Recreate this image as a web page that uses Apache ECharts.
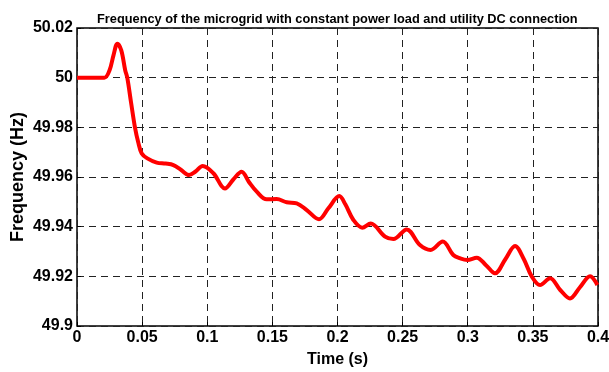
<!DOCTYPE html>
<html>
<head>
<meta charset="utf-8">
<script src="https://cdn.jsdelivr.net/npm/echarts@6/dist/echarts.min.js"></script>
<style>
html,body{margin:0;padding:0;background:#fff;}
#main{width:609px;height:372px;}
</style>
</head>
<body>
<div id="main"></div>
<script>
// time (s) and frequency (Hz)
var timeS=[0,0.021,0.025,0.028,0.031,0.034,0.037,0.0386,0.0415,0.0445,0.047,0.0497,0.054,0.0612,0.068,0.074,0.08,0.086,0.091,0.0965,
	0.1047,0.1136,0.12,0.1264,0.132,0.138,0.1456,0.1533,0.161,0.1687,0.1764,0.1858,0.193,0.2014,0.206,0.2122,0.219,0.2255,0.2365,0.2429,
	0.2531,0.2633,0.2715,0.2808,0.2889,0.294,0.2997,0.3069,0.314,0.3209,0.329,0.3363,0.343,0.3491,0.3555,0.3632,0.371,0.3785,0.386,0.3939,0.3995];
var freqHz=[50,50,50.003,50.009,50.0137,50.011,50.003,50,49.99,49.98,49.974,49.9695,49.9675,49.9658,49.9654,49.9648,49.9628,49.9608,49.9622,49.9644,
	49.9615,49.9554,49.959,49.9621,49.958,49.9541,49.951,49.9511,49.9498,49.9494,49.9467,49.943,49.9474,49.9523,49.949,49.9427,49.9396,49.9413,49.936,49.935,
	49.9389,49.9326,49.9306,49.934,49.9286,49.9273,49.9266,49.9275,49.9245,49.9212,49.927,49.9322,49.927,49.92,49.9165,49.9192,49.9145,49.9111,49.9155,49.92,49.9165];
var titleText='Frequency of the microgrid with constant power load and utility DC connection';

var points=[];
for(var i=0;i<timeS.length;i++){
	points.push([timeS[i],freqHz[i]]);
}
var font='"Liberation Sans", Arial, sans-serif';
var chart=echarts.init(document.getElementById('main'));
chart.setOption({
	animation:false,
	title:{
		text:titleText,
		left:92,top:8,
		textStyle:{fontFamily:font,fontSize:12.8,fontWeight:'bold',color:'#000'}
	},
	grid:{left:77,top:28,right:11,bottom:46,outerBoundsMode:'none',containLabel:false,
		show:true,borderColor:'#000',borderWidth:1.5,backgroundColor:'#fff'},
	xAxis:{
		type:'value',min:0,max:0.4,interval:0.05,
		name:'Time (s)',nameLocation:'middle',nameGap:26,nameMoveOverlap:false,
		nameTextStyle:{fontFamily:font,fontSize:16,fontWeight:'bold',color:'#000'},
		axisLine:{show:false},
		axisTick:{inside:true,length:4,lineStyle:{color:'#000'}},
		axisLabel:{fontFamily:font,fontSize:16,fontWeight:'bold',color:'#000',margin:4,
			formatter:function(v){return String(parseFloat(v.toFixed(3)));}},
		splitLine:{show:true,lineStyle:{color:'#222',width:1,type:[7,5]}}
	},
	yAxis:{
		type:'value',min:49.9,max:50.02,interval:0.02,
		name:'Frequency (Hz)',nameLocation:'middle',nameGap:50,nameMoveOverlap:false,
		nameTextStyle:{fontFamily:font,fontSize:18,fontWeight:'bold',color:'#000'},
		axisLine:{show:false},
		axisTick:{inside:true,length:4,lineStyle:{color:'#000'}},
		axisLabel:{fontFamily:font,fontSize:16,fontWeight:'bold',color:'#000',margin:4,
			formatter:function(v){return String(parseFloat(v.toFixed(2)));}},
		splitLine:{show:true,lineStyle:{color:'#222',width:1,type:[7,5]}}
	},
	series:[{
		type:'line',data:points,smooth:0.35,showSymbol:false,
		lineStyle:{color:'#ff0000',width:4},
		clip:true
	}]
});
</script>
</body>
</html>
